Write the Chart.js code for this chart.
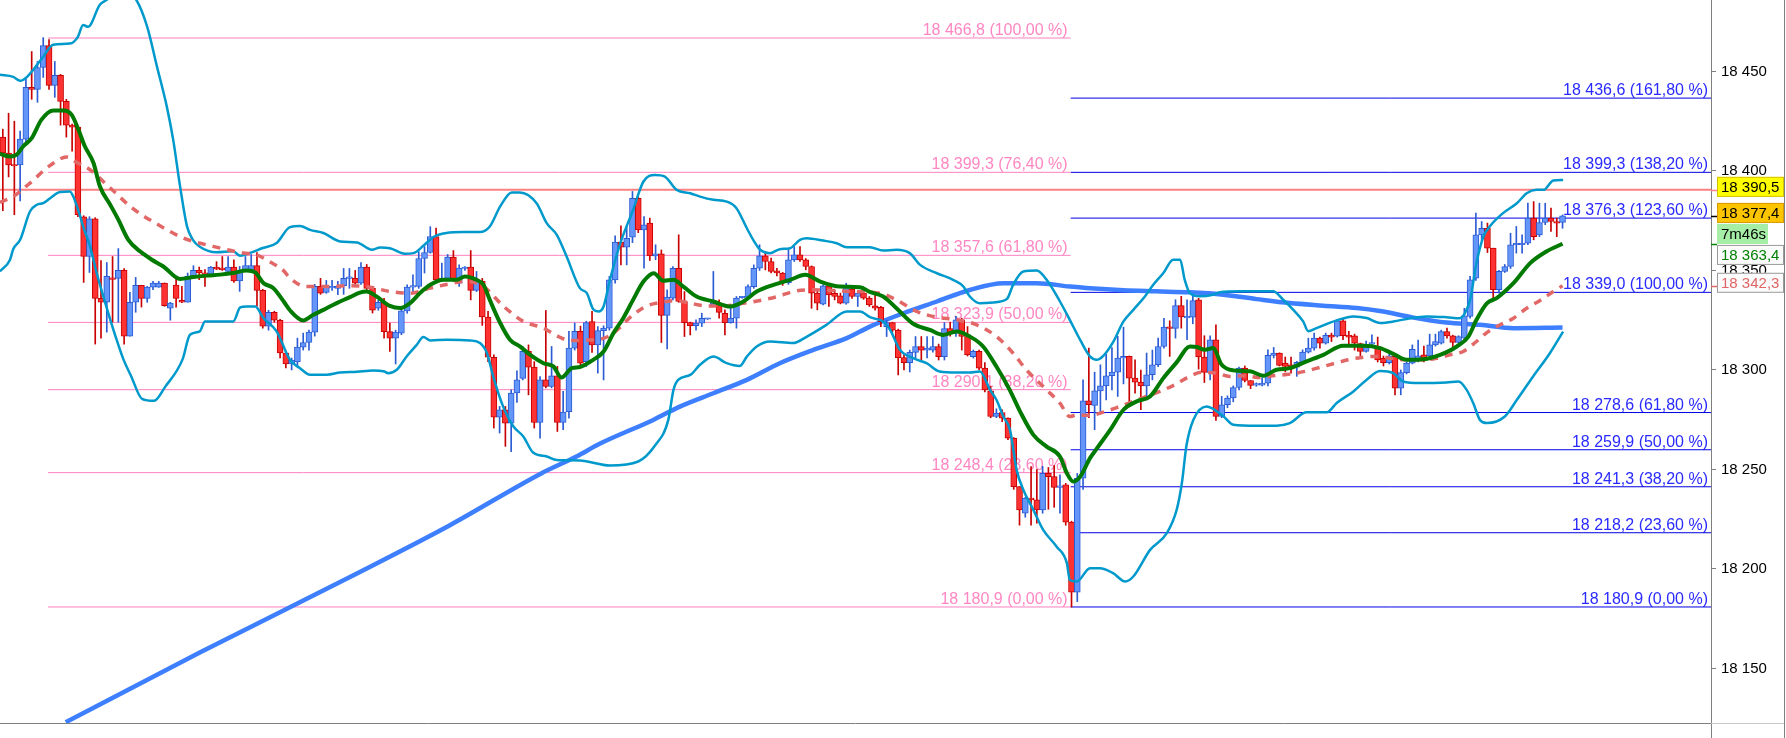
<!DOCTYPE html>
<html>
<head>
<meta charset="utf-8">
<script src="https://cdn.jsdelivr.net/npm/chart.js@4/dist/chart.umd.min.js"></script>
<style>
  html, body { margin: 0; padding: 0; background: #fff; }
  canvas { display: block; }
</style>
</head>
<body>
<canvas id="chart" width="1786" height="738"></canvas>
<script>
// candle data, one entry per bar (index 0 = leftmost bar)
const opens = [
  18417, 18409, 18403, 18403, 18416, 18442, 18441, 18452, 18463, 18443,
  18448, 18435, 18423, 18422, 18377, 18357, 18376, 18336, 18334, 18346,
  18346, 18350, 18317, 18334, 18342.5, 18336, 18341.6, 18341.6, 18343.7, 18331.1,
  18342.7, 18335, 18334, 18347, 18350, 18348.7, 18348, 18351.7, 18351, 18349.5,
  18351.7, 18344.7, 18350, 18350.5, 18352.5, 18340, 18322, 18329, 18325, 18308.5,
  18303, 18304, 18311.5, 18313.8, 18319, 18342, 18339, 18341.2, 18341, 18342.3,
  18346, 18346, 18343.6, 18351.7, 18341, 18331, 18334, 18319.3, 18316, 18318.5,
  18329.7, 18341.6, 18342, 18356, 18359, 18367, 18345.3, 18346, 18356.7, 18343.6,
  18351, 18351.7, 18340, 18344.5, 18326.6, 18306.4, 18276.3, 18280, 18273.3, 18288.4,
  18295.8, 18309.3, 18301.4, 18273.6, 18295, 18291.7, 18297, 18273.6, 18279, 18311,
  18319.4, 18304.2, 18324.3, 18312.6, 18319.8, 18321, 18345.3, 18364.2, 18361.7, 18366.7,
  18386.3, 18370.4, 18373.8, 18357.3, 18358.3, 18327.4, 18336.1, 18351.1, 18334.4, 18323.8,
  18322.2, 18323.5, 18325.5, 18332.7, 18333.5, 18328.5, 18323.8, 18326, 18336.3, 18336.6,
  18341.9, 18351.1, 18357.3, 18354.5, 18349.8, 18348.7, 18343.9, 18355.3, 18357.8, 18355.3,
  18352, 18338.6, 18333, 18342.3, 18338.5, 18337.2, 18333.6, 18340.6, 18336.9, 18338.6,
  18336.1, 18332.2, 18331.5, 18321.8, 18323.8, 18320, 18306.2, 18303.7, 18308.8, 18311.8,
  18310, 18310, 18311.8, 18306.7, 18320.8, 18318.5, 18325.2, 18316.8, 18306.7, 18309.3,
  18300.9, 18289.5, 18276.6, 18278.6, 18275.8, 18265.7, 18241.4, 18228, 18235.6, 18234.8,
  18229.7, 18248.1, 18246.4, 18241, 18242.3, 18223.5, 18188.3, 18245.6, 18284.5, 18282.2,
  18289.5, 18292, 18297.1, 18298.9, 18306, 18306.8, 18295.9, 18293.9, 18292, 18297.6,
  18302.6, 18311.8, 18321.5, 18320.9, 18332.3, 18326.2, 18326.5, 18335.3, 18306.5, 18298.8,
  18315.2, 18276.7, 18282.5, 18285.9, 18291.2, 18300.9, 18294.7, 18292.4, 18292.4, 18293.4,
  18307.3, 18308.5, 18303.4, 18302.6, 18301.4, 18303.8, 18309, 18311, 18316, 18313.5,
  18317.5, 18317, 18324.7, 18317.5, 18317.2, 18313.2, 18309.3, 18313, 18311.8, 18305.9,
  18303.7, 18306.8, 18290.8, 18298.7, 18303.4, 18305.1, 18307.6, 18307.1, 18312.6, 18313.5,
  18319.3, 18317.1, 18313.8, 18316, 18326.9, 18346.1, 18367.9, 18371.2, 18361.2, 18340.3,
  18349.5, 18352, 18362.9, 18362.9, 18363.7, 18376.3, 18367.9, 18374.1, 18376.3, 18374.6,
  18374.1
];
const highs = [
  18421, 18429, 18425, 18420, 18446, 18460, 18455, 18467, 18466, 18455,
  18448.5, 18436, 18423.5, 18422.5, 18377.5, 18377, 18376.5, 18355, 18354, 18357,
  18361, 18351, 18339, 18346.5, 18342.5, 18342, 18344.5, 18344.5, 18343.7, 18334,
  18347, 18342, 18348.7, 18352.4, 18351.7, 18350.4, 18352, 18354.4, 18357, 18357,
  18355.4, 18352, 18357, 18358, 18359, 18340.5, 18330, 18329.5, 18325.5, 18309,
  18306, 18316, 18318.5, 18320, 18343, 18346, 18345, 18345, 18344.5, 18351,
  18351, 18350, 18354, 18353, 18341.5, 18335, 18336, 18323.5, 18320, 18330.5,
  18342.8, 18347.8, 18359.5, 18362, 18372, 18371.3, 18353.7, 18358, 18360, 18352.8,
  18352, 18360, 18349.5, 18346, 18329.4, 18307.6, 18281.7, 18281.7, 18290, 18299.6,
  18311.8, 18312.6, 18304.2, 18296.7, 18329.9, 18311.8, 18301.8, 18289.2, 18319.4, 18323.6,
  18322, 18324.5, 18329.4, 18321.8, 18322.2, 18347, 18367.4, 18372.4, 18372, 18389.7,
  18387, 18377.1, 18376.3, 18362.9, 18360.3, 18340.3, 18352, 18367.9, 18339.4, 18324,
  18325.2, 18328.5, 18326, 18349.5, 18335.2, 18330.2, 18331.9, 18336.9, 18337, 18342.8,
  18352.8, 18362.9, 18359.5, 18356.2, 18351.1, 18349, 18360.3, 18362, 18362, 18356,
  18352.3, 18340.3, 18342.8, 18342.8, 18340.3, 18338.6, 18343.6, 18341.9, 18339.4, 18339.4,
  18336.9, 18337.7, 18332, 18325, 18324, 18320.5, 18308, 18310, 18316.8, 18316.8,
  18316.8, 18316.8, 18313, 18323.8, 18324, 18327, 18326, 18321.8, 18310, 18310,
  18303.7, 18291.7, 18280.5, 18280, 18276, 18266, 18241.4, 18236, 18251.5, 18250,
  18251.6, 18251, 18252, 18247.3, 18243, 18224, 18248, 18295, 18311, 18298.9,
  18302.6, 18308, 18311.3, 18316.9, 18321.5, 18307, 18305.1, 18300, 18308.5, 18310,
  18316, 18326, 18324.7, 18335.3, 18337, 18335.3, 18337, 18336, 18317.2, 18317.2,
  18322.7, 18286.7, 18287, 18292, 18301.5, 18302, 18294.7, 18293.5, 18296, 18310.1,
  18311.3, 18308.6, 18306.5, 18306.5, 18304.3, 18310.1, 18316, 18318.5, 18316.5, 18318.5,
  18318.5, 18325.2, 18326, 18319.4, 18318, 18313.5, 18314.5, 18317.7, 18316.5, 18307,
  18308, 18307.6, 18300, 18304, 18312.6, 18315, 18312, 18318, 18318, 18320,
  18321, 18317.5, 18317.2, 18331, 18347, 18378.8, 18374.6, 18373.8, 18361.2, 18350,
  18353, 18368.7, 18372.1, 18367.9, 18383.8, 18384.6, 18383.8, 18383.8, 18381.3, 18376.3,
  18377.9
];
const lows = [
  18380, 18397, 18378, 18385, 18414, 18436, 18434.5, 18447, 18441, 18437,
  18423, 18417, 18410, 18377, 18344, 18349, 18313, 18316, 18319, 18324,
  18324, 18313, 18317, 18329, 18331.6, 18334, 18340.3, 18341.5, 18332, 18325,
  18331.6, 18333.8, 18334, 18347, 18345.4, 18342, 18347, 18350.4, 18350, 18348.7,
  18344, 18339.5, 18350, 18350, 18332, 18321, 18320, 18324, 18306, 18301,
  18300, 18302, 18310, 18310, 18317, 18338, 18338.5, 18340, 18337.8, 18338,
  18341, 18343, 18343, 18340, 18328.6, 18330, 18316, 18309.3, 18303, 18317.7,
  18328.5, 18339.4, 18341, 18348.7, 18358.7, 18345, 18344.5, 18345, 18344.5, 18342,
  18350, 18335.2, 18339.4, 18322.4, 18304.2, 18270.8, 18268.3, 18261.6, 18259, 18283.7,
  18295, 18287.5, 18270.8, 18265.7, 18291, 18291, 18269.1, 18270, 18275.8, 18310,
  18302, 18301.7, 18308.8, 18298.4, 18295, 18320, 18343.6, 18352.8, 18352.8, 18364,
  18369, 18351.1, 18355, 18355.4, 18313.8, 18310.6, 18335.2, 18334, 18316.8, 18317.6,
  18320, 18321.8, 18325.4, 18331.9, 18326, 18317.6, 18323.5, 18321, 18336, 18336,
  18341, 18350, 18350.3, 18348.7, 18347.3, 18342.5, 18343, 18354.5, 18354.5, 18350.3,
  18331, 18330.2, 18332.7, 18331.9, 18335.2, 18333.2, 18333, 18336, 18331.9, 18335.5,
  18331.9, 18330, 18321.8, 18316.8, 18319, 18297.5, 18300, 18299, 18306, 18305,
  18306, 18309, 18305, 18305, 18317, 18316.8, 18310, 18307, 18306, 18300,
  18289, 18276, 18276, 18274, 18265, 18240, 18222, 18226, 18222, 18223,
  18228, 18230, 18231, 18228, 18222, 18180.9, 18183.6, 18240, 18276, 18270,
  18278, 18285, 18290, 18286.7, 18293, 18282.5, 18288.3, 18280, 18285, 18295,
  18301.7, 18311, 18306.8, 18316, 18321, 18315.2, 18323.2, 18300.4, 18293.7, 18295,
  18274.6, 18276, 18281, 18284, 18290, 18294, 18290.6, 18291.8, 18292, 18292,
  18306, 18302, 18299, 18298.4, 18296.8, 18303, 18308.5, 18310, 18311, 18313,
  18314.3, 18316.5, 18315.2, 18311.8, 18310, 18307.2, 18309, 18312.7, 18304, 18302,
  18303, 18287.5, 18287.5, 18298, 18303, 18304, 18304, 18306, 18312, 18313,
  18316, 18311, 18313.5, 18315, 18326, 18345, 18365, 18359, 18336.1, 18338.6,
  18349, 18351, 18358.7, 18358.7, 18363, 18365.4, 18367, 18373, 18369.6, 18367,
  18371.2
];
const closes = [
  18409, 18403, 18402.5, 18416, 18442, 18441, 18452, 18463, 18443, 18448,
  18435, 18423, 18422, 18378, 18357, 18376, 18336, 18334, 18347, 18345.5,
  18350, 18317, 18334, 18342.5, 18336, 18341.6, 18343.7, 18343.7, 18332.3, 18333.6,
  18336, 18334, 18347, 18350, 18348.7, 18348, 18351.7, 18350.7, 18350.4, 18351.7,
  18344.7, 18350, 18352.5, 18352.5, 18340, 18322, 18329, 18325, 18308.5, 18303,
  18305, 18311.5, 18313.8, 18319, 18342, 18338.6, 18341.6, 18342, 18342, 18346,
  18346.6, 18343.6, 18351.7, 18341, 18330, 18334, 18319.3, 18316, 18319, 18329.7,
  18341.6, 18342.3, 18356, 18359, 18367, 18345.3, 18346, 18356.7, 18345.3, 18351.2,
  18351.7, 18340, 18344.5, 18326.6, 18306.4, 18276.3, 18280, 18273.3, 18288.4, 18295,
  18309.3, 18301.4, 18273.6, 18295, 18291.7, 18297, 18273.6, 18278.8, 18311, 18319.4,
  18303.4, 18323.8, 18312.6, 18319.8, 18321, 18345.3, 18364.2, 18361.7, 18366.2, 18386.3,
  18370.4, 18372.9, 18357.3, 18358.3, 18327.4, 18336.6, 18351.1, 18334.4, 18323.8, 18322.2,
  18323.5, 18326, 18325.9, 18333.5, 18328.9, 18323.8, 18326, 18336.1, 18336.7, 18341.9,
  18351.1, 18357.3, 18354.5, 18349.5, 18348.7, 18343.9, 18355.3, 18357.8, 18355.3, 18352,
  18338.6, 18333.6, 18342.3, 18337.7, 18336.9, 18333.6, 18341.9, 18336.9, 18338.6, 18336.1,
  18332.7, 18331, 18324.3, 18323.8, 18320, 18306.2, 18303.7, 18308.8, 18311.8, 18310,
  18311, 18311.8, 18306.7, 18320.8, 18318.5, 18325.2, 18316.8, 18307.6, 18309.3, 18300.9,
  18290, 18276.6, 18278.3, 18275.8, 18265.7, 18241.4, 18229.7, 18235.6, 18234.8, 18229.7,
  18248.1, 18246.4, 18241, 18241.5, 18223.5, 18188.3, 18245.6, 18284.5, 18282.5, 18289.5,
  18292, 18297.1, 18298.9, 18306, 18306.8, 18295.9, 18293.9, 18292, 18297.6, 18302.6,
  18311.8, 18321.5, 18320.9, 18332.3, 18326.6, 18326.8, 18334.8, 18306.5, 18298.8, 18315.2,
  18276.7, 18282.5, 18285.9, 18291.2, 18300.9, 18294.7, 18292.2, 18293, 18293.4, 18307.3,
  18308.5, 18302.3, 18301.8, 18301.4, 18303.8, 18309, 18311, 18316, 18313.5, 18317.4,
  18316.5, 18324.7, 18317.2, 18316.5, 18313.5, 18309.3, 18312.7, 18313.5, 18305.1, 18303.7,
  18307.1, 18290.8, 18298.7, 18303.4, 18310.4, 18307.1, 18305.1, 18312.6, 18314.3, 18319.3,
  18317.1, 18313.8, 18316.8, 18327.2, 18345.3, 18367.9, 18371.2, 18361.2, 18340.3, 18349.5,
  18352, 18362.9, 18363.2, 18363.3, 18376.3, 18367, 18374.1, 18376.3, 18374.6, 18373.8,
  18377.4
];

// indicator lines as [bar index, price]
const greenMA = [
  [-0.5, 18408.5], [1.25, 18407.3], [2.4, 18408.2], [3.55, 18412.4], [5, 18416.5], [6.7, 18425.8],
  [8.75, 18430.4], [10.5, 18430.4], [11.9, 18428.3], [13.1, 18420.7], [14.2, 18412.4], [15.7, 18404],
  [16.8, 18392.3], [18.6, 18383], [20, 18375.5], [21.7, 18365.5], [23.75, 18359.6], [25.8, 18355.4],
  [27.8, 18352], [30.7, 18345.7], [33, 18346.7], [35.3, 18347.4], [37.6, 18347.9], [39.9, 18348.7],
  [42.2, 18350], [43.7, 18349], [45.1, 18343.7], [46.8, 18341.2], [48.6, 18334.5], [49.7, 18330],
  [52, 18324.9], [53.75, 18327.7], [55.5, 18330.2], [57.8, 18333.6], [60.1, 18336.6], [61.8, 18338.9],
  [63, 18339.4], [64.7, 18336.9], [67, 18332.2], [68.8, 18331.1], [70.5, 18333.6], [72.2, 18338.6],
  [74, 18342.8], [76.3, 18345.3], [78.6, 18345.3], [80, 18347], [82, 18345.3], [83.2, 18342.8],
  [84.3, 18335.2], [86.1, 18323.6], [87.8, 18315.2], [89.5, 18311.8], [91.3, 18307.6], [93.6, 18303.4],
  [95.3, 18301.8], [96.7, 18296.2], [98.5, 18300.9], [99.9, 18301.5], [102.2, 18305.1], [104, 18309.3],
  [105.7, 18318.5], [107.4, 18326], [109.1, 18335.2], [110.9, 18344.4], [112.7, 18348.6], [114.3, 18344.8],
  [116.1, 18345.3], [117.8, 18341.9], [120.1, 18336.9], [123, 18334.4], [125.9, 18331.9], [128.2, 18334.4],
  [130.5, 18339.4], [133.4, 18342.8], [136.3, 18345.3], [138.9, 18347.8], [141.5, 18344.4], [144.9, 18341.9],
  [148.4, 18341.6], [150.1, 18339.2], [152.4, 18336.9], [154.7, 18331], [157.6, 18323.2], [160.5, 18320.1],
  [162.8, 18317.6], [165.1, 18319.3], [167.4, 18316.8], [169.7, 18311.8], [172, 18301.7], [174.3, 18290],
  [176.1, 18279.1], [178.4, 18267.4], [180.7, 18261.5], [183, 18256.5], [184.2, 18248.1], [185.3, 18243.9],
  [186.5, 18246.4], [188.2, 18255.7], [189.3, 18260.2], [191.7, 18269.9], [194, 18280], [196.3, 18284.2],
  [198.6, 18286.7], [200.9, 18295.9], [203.2, 18303.8], [205.5, 18311.8], [206.7, 18311.5], [208.1, 18310.1],
  [209.5, 18311], [211, 18302.6], [213, 18299.8], [215.9, 18299.3], [218.2, 18297.1], [220.5, 18300.1],
  [222.8, 18300.9], [225.7, 18304.3], [228.6, 18307.6], [232, 18312.2], [235.5, 18312.2], [238.4, 18311],
  [240.7, 18308.1], [243, 18305.1], [245.9, 18305.4], [248.8, 18307.6], [251.7, 18311.8], [253.7, 18316.8],
  [255.1, 18325.2], [256.9, 18333.5], [258.6, 18336.1], [261.5, 18343.6], [264.4, 18353.7], [267.2, 18359.5],
  [270, 18363.4]
];
const redMA = [
  [-0.5, 18384.2], [1.8, 18387.2], [4.7, 18393.9], [8.2, 18402.8], [11.05, 18407], [12.8, 18404.3],
  [15.1, 18400.6], [18.6, 18391.4], [22.6, 18380.9], [26.6, 18373.5], [31.25, 18366.3], [36.4, 18362.1],
  [41.6, 18358.8], [43.9, 18357.9], [46.3, 18354.2], [48.6, 18349.9], [49.7, 18346.1], [52.6, 18341.9],
  [55.5, 18341.9], [60.1, 18342.3], [63.6, 18341.6], [67, 18339.4], [70.5, 18338.6], [74, 18341.1],
  [77.4, 18343.3], [80.3, 18344.5], [83.2, 18341.9], [86.6, 18332.2], [90.1, 18324.4], [93.6, 18321],
  [95.9, 18317.2], [98.2, 18314.8], [103.4, 18315.5], [105.7, 18318.5], [109.1, 18327.7], [111.5, 18332.2],
  [113.8, 18333.9], [116.6, 18334.9], [118.9, 18333.6], [121.8, 18332.2], [124.7, 18332.2], [127.6, 18333.2],
  [131.6, 18335.2], [134.5, 18337.2], [136.8, 18339.4], [140.3, 18340.3], [143.8, 18339.9], [147.2, 18339.4],
  [151.8, 18338.6], [154.7, 18335.2], [158.2, 18329.4], [161.7, 18326.5], [165.1, 18325.2], [168.6, 18322.7],
  [172, 18316.8], [174.9, 18308.4], [177.2, 18300], [180.7, 18290], [183, 18283.3], [184.7, 18276.6],
  [185.9, 18277.4], [188.2, 18277.2], [190.5, 18278.8], [193.4, 18281.7], [195.7, 18284.2], [198, 18286.7],
  [200.3, 18289.2], [202.9, 18292.6], [205.2, 18296.4], [207.5, 18298.8], [210.1, 18298.4], [212.4, 18296.7],
  [215, 18297.1], [217.6, 18296.2], [220.2, 18297.2], [222.8, 18297.9], [225.4, 18299.3], [228, 18301.3],
  [230.3, 18303.1], [232.9, 18305.1], [235.2, 18306.3], [237.8, 18306.8], [240.1, 18305.9], [243, 18305.1],
  [245.9, 18305.1], [248.2, 18305.9], [250.5, 18307.6], [252.8, 18309.3], [255.1, 18314.3], [256.9, 18318.8],
  [259.2, 18322.7], [261.5, 18326], [263.8, 18331], [266.1, 18334.9], [268.4, 18339.4], [270, 18342.3]
];
const bandUpper = [
  [-0.5, 18448.3], [1.8, 18447.3], [3, 18445.3], [4.2, 18447.3], [7, 18457.4], [8.7, 18463.4],
  [11.6, 18464], [13, 18467.4], [13.9, 18473.4], [14.75, 18472.4], [16.8, 18483.5], [18, 18486],
  [20.3, 18492], [23.1, 18486], [25, 18472.4], [26.7, 18452.3], [28.4, 18432.2], [29.5, 18415.6],
  [30.7, 18392], [31.9, 18372], [32.9, 18365.4], [34.1, 18361.9], [37, 18359.1], [39.85, 18359.6],
  [41.1, 18357.4], [42.8, 18358.8], [45, 18361.3], [47.4, 18363.8], [49.7, 18371.8], [51.45, 18372.4],
  [53.2, 18370.4], [55.5, 18368.8], [58.4, 18364.6], [61.3, 18364.1], [63.9, 18360.4], [65.3, 18361.5],
  [67, 18361.2], [69.6, 18358.4], [71.1, 18358.7], [72.8, 18362.4], [74.5, 18366.7], [76.8, 18368.8],
  [79.7, 18369.3], [82.6, 18369.3], [84.3, 18372.1], [86.1, 18382.2], [88.1, 18389.2], [89.5, 18389.2],
  [92.4, 18383.8], [94.15, 18373.8], [95.9, 18367.9], [97.6, 18357], [99.9, 18341.1], [101.1, 18338.6],
  [102.2, 18330.5], [103.1, 18329.4], [104, 18331.9], [105.1, 18345.3], [106.8, 18362.9], [109.1, 18380.4],
  [110.9, 18394.7], [112.9, 18398], [114.6, 18397.2], [116.65, 18390.5], [119, 18388.8], [120.7, 18387.1],
  [123, 18385.5], [125.3, 18384.6], [127, 18381.3], [128.8, 18371.2], [129.9, 18365.4], [131.1, 18360.4],
  [132.8, 18358.7], [134.5, 18360.7], [136.3, 18361.2], [138, 18365.4], [139.2, 18366.2], [142, 18365],
  [144.35, 18363.7], [146.1, 18361.7], [150.1, 18361.7], [152.4, 18360], [154.7, 18360.4], [157, 18358.7],
  [158.8, 18352.8], [161.7, 18348.6], [164.5, 18345.3], [166.3, 18341.9], [167.4, 18336.9], [169.15, 18333.5],
  [171.5, 18333.9], [173.8, 18335.6], [174.9, 18342.8], [176.65, 18349.5], [179, 18350], [180.7, 18345.3],
  [183, 18334.4], [184.7, 18325.2], [186.5, 18315.1], [188.2, 18306.8], [189.35, 18305.1], [190.5, 18307.1],
  [192.2, 18314], [194, 18324.4], [195.7, 18330.2], [197.7, 18336.9], [199.15, 18342.8], [200.9, 18348.7],
  [202.6, 18355.4], [203.8, 18355.4], [204.6, 18345.3], [205.5, 18338.6], [207.2, 18337], [209.5, 18337.8],
  [210.7, 18339.1], [214.2, 18339.5], [219.9, 18339.5], [221.65, 18335.3], [223.4, 18330.2], [225.1, 18324.4],
  [226, 18319.4], [227.4, 18321], [230.9, 18324.9], [233.8, 18326.9], [236.1, 18326.1], [238.4, 18323.6],
  [240.7, 18324.3], [243.6, 18326], [246.5, 18326.9], [249.9, 18326.5], [252.2, 18326], [253.1, 18328.5],
  [254, 18335.2], [255.1, 18353.7], [256.3, 18367], [257.4, 18372.1], [259.7, 18378.8], [262.1, 18383.8],
  [263.8, 18388.8], [265.5, 18390.5], [266.7, 18390.5], [268.4, 18395.2], [270.1, 18395.5]
];
const bandLower = [
  [-0.5, 18349.5], [1.25, 18355.4], [1.8, 18360.7], [3, 18365.4], [4.7, 18379.6], [5.9, 18383],
  [7, 18383.8], [8.2, 18386.3], [9.9, 18389.4], [11.6, 18389.7], [12.2, 18387.2], [13.4, 18377.2],
  [13.9, 18372.1], [15.1, 18362.1], [16.25, 18348.7], [17.4, 18337], [18.6, 18325.3], [19.7, 18315.2],
  [20.9, 18305.2], [22.2, 18297], [24.1, 18285.5], [26.2, 18284.5], [28.1, 18291.5], [31.1, 18305.2],
  [32.4, 18317.7], [34.1, 18319.4], [35, 18324.4], [39.9, 18324.4], [41.1, 18331.4], [42.2, 18331.9],
  [43.7, 18331.9], [45.1, 18326.1], [47.4, 18319.4], [49.7, 18305.1], [51.45, 18300.9], [53.2, 18297.6],
  [56.1, 18297.6], [58.4, 18298.7], [61.3, 18299.1], [64.1, 18299.7], [65.9, 18299.4], [66.7, 18298.4],
  [68.2, 18300.1], [69.9, 18306.8], [71.65, 18312.6], [72.8, 18316.5], [74, 18314.8], [76.8, 18315.2],
  [80.9, 18314.8], [82.6, 18313.5], [83.8, 18308.5], [84.9, 18296.7], [86.6, 18281.7], [88.4, 18271.6],
  [90.1, 18266.6], [91.8, 18258.5], [94.15, 18256.5], [95.9, 18254.8], [99.9, 18254.5], [105.1, 18252],
  [110, 18254], [112.9, 18262], [115.2, 18274.9], [116.1, 18290], [116.9, 18295], [119, 18297.5],
  [120.7, 18302.6], [123, 18306.7], [125.3, 18303.4], [127.6, 18302], [128.8, 18306.7], [130.5, 18311.8],
  [132.8, 18314.3], [136.8, 18313.5], [139.2, 18316.8], [142.6, 18322.7], [146.1, 18329.4], [148.4, 18329.4],
  [150.1, 18326.5], [152.4, 18324.3], [153.6, 18320.2], [155.3, 18310.1], [157.6, 18305.9], [159.9, 18303.4],
  [162.2, 18299.2], [165.1, 18298.7], [167.4, 18298.7], [169.15, 18299.2], [170.9, 18290], [172, 18285],
  [173.2, 18276.6], [174.35, 18269.9], [175.5, 18249.8], [176.65, 18239.8], [178.4, 18229.7], [180.1, 18219.6],
  [182.4, 18211.3], [184.2, 18202.9], [184.7, 18194.5], [185.9, 18193.7], [188.2, 18200.4], [189.9, 18200.4],
  [192.2, 18197.9], [194.3, 18193.7], [195.7, 18196.2], [198.6, 18209.6], [201.5, 18218], [203.2, 18229.7],
  [204.1, 18243.1], [204.9, 18262], [206.1, 18275], [208.4, 18281.7], [209.3, 18280.8], [211.3, 18276.7],
  [213, 18272.5], [217.05, 18272], [220.5, 18272], [222.8, 18273.3], [225.7, 18278.7], [229.2, 18278.7],
  [230.9, 18283.4], [233.8, 18289.2], [236.1, 18295.1], [238.4, 18299.5], [240.7, 18298.4], [242.4, 18294.2],
  [245.3, 18293.4], [249.9, 18293.7], [252, 18294.2], [253.4, 18290], [254.55, 18283.3], [255.7, 18274.9],
  [256.9, 18273.3], [260, 18276.6], [262.1, 18285], [264.9, 18296.7], [267.8, 18308.4], [270.1, 18319.3]
];
const blueMA = [
  [10.9, 18123], [34.1, 18158], [60.1, 18196], [77.4, 18222], [93.2, 18248], [99.3, 18256.5],
  [103.4, 18263], [112.6, 18274.9], [117.2, 18281.6], [123, 18288.3], [128.8, 18295], [134.5, 18303.4],
  [140.3, 18310.1], [146.1, 18316], [150.1, 18321.8], [155.9, 18328.5], [161.7, 18334.4], [167.4, 18340.2],
  [173.2, 18343.6], [179, 18343.6], [184.7, 18341.9], [188.2, 18341], [194, 18340], [199.7, 18339.5],
  [205.5, 18339], [211.3, 18337.8], [217.05, 18335.6], [222.8, 18333.6], [228.6, 18332.3], [234.4, 18331.1],
  [238.4, 18329.6], [244.2, 18326.3], [249.9, 18323.8], [255.7, 18322.7], [261.5, 18321], [270, 18321.3]
];

// fibonacci retracements
const pinkLevels = [18466.8, 18399.3, 18357.6, 18323.9, 18290.1, 18248.4, 18180.9];
const pinkPercents = [100, 76.4, 61.8, 50, 38.2, 23.6, 0];
const blueLevels = [18436.6, 18399.3, 18376.3, 18339.0, 18278.6, 18259.9, 18241.3, 18218.2, 18180.9];
const bluePercents = [161.8, 138.2, 123.6, 100, 61.8, 50, 38.2, 23.6, 0];
const pinkFrom = 7.8, pinkTo = 184.85, blueFrom = 184.85;

// right-axis price tags
const lastHigh = 18390.5;
const lastPrice = 18377.4;
const timerText = '7m46s';
const greenLast = 18363.4;
const redLast = 18342.3;

// axis ranges
const xMin = -0.485, xMax = 295.7;
const yMin = 18122.6, yMax = 18485.9;

const FONT = '"Liberation Sans", Arial, sans-serif';

function fmtInt(v) {
  return String(Math.round(v)).replace(/\B(?=(\d{3})+(?!\d))/g, ' ');
}
function fmtPrice(v) {
  const parts = v.toFixed(1).split('.');
  return fmtInt(Number(parts[0])) + ',' + parts[1];
}
function fmtPct(p) {
  return '(' + p.toFixed(2).replace('.', ',') + ' %)';
}
const toPts = arr => arr.map(p => ({ x: p[0], y: p[1] }));

const isBull = opens.map((o, i) => closes[i] >= o);

const fibLabels = {
  id: 'fibLabels',
  beforeDatasetsDraw(chart) {
    const { ctx, scales: { x, y } } = chart;
    ctx.save();
    ctx.font = '16px ' + FONT;
    ctx.textAlign = 'right';
    ctx.textBaseline = 'alphabetic';
    ctx.fillStyle = '#ff86c2';
    const px = x.getPixelForValue(pinkTo) - 3;
    pinkLevels.forEach((v, i) => {
      ctx.fillText(fmtPrice(v) + ' ' + fmtPct(pinkPercents[i]), px, y.getPixelForValue(v) - 3);
    });
    ctx.fillStyle = '#2a2aff';
    const bx = chart.chartArea.right - 3;
    blueLevels.forEach((v, i) => {
      ctx.fillText(fmtPrice(v) + ' ' + fmtPct(bluePercents[i]), bx, y.getPixelForValue(v) - 3);
    });
    ctx.restore();
  }
};

const priceTags = {
  id: 'priceTags',
  afterDraw(chart) {
    const { ctx, chartArea, scales: { y } } = chart;
    const left = chartArea.right + 6;
    const full = chart.width - 2 - left;
    ctx.save();
    // frame lines
    ctx.strokeStyle = '#7f7f7f';
    ctx.lineWidth = 1;
    ctx.beginPath();
    ctx.moveTo(0, chartArea.bottom + 0.5);
    ctx.lineTo(chartArea.right, chartArea.bottom + 0.5);
    ctx.moveTo(chart.width - 1.5, 0);
    ctx.lineTo(chart.width - 1.5, chart.height);
    ctx.moveTo(chartArea.right + 0.5, chartArea.bottom);
    ctx.lineTo(chartArea.right + 0.5, chart.height);
    ctx.stroke();
    ctx.strokeStyle = '#c8c8c8';
    ctx.beginPath();
    ctx.moveTo(chartArea.right, chartArea.bottom + 0.5);
    ctx.lineTo(chart.width - 2, chartArea.bottom + 0.5);
    ctx.stroke();

    const tags = [
      { v: lastHigh, text: fmtPrice(lastHigh), bg: '#ffff00', border: '#d6c000', color: '#000', tick: '#ff8080', w: full },
      { v: lastPrice, text: fmtPrice(lastPrice), bg: '#fdc400', border: '#d89a00', color: '#000', tick: '#000', w: full },
      { v: null, text: timerText, bg: '#a6eea6', border: '#a6eea6', color: '#000', tick: null, w: 51 },
      { v: greenLast, text: fmtPrice(greenLast), bg: '#fbfbfb', border: '#9a9a9a', color: '#008000', tick: '#008000', w: full },
      { v: redLast, text: fmtPrice(redLast), bg: '#fbfbfb', border: '#9a9a9a', color: '#e06666', tick: '#e06666', w: full }
    ];
    const h = 20;
    let prevBottom = -100;
    ctx.font = '15px ' + FONT;
    ctx.textAlign = 'left';
    ctx.textBaseline = 'middle';
    tags.forEach(t => {
      let top = t.v === null ? prevBottom + 1 : Math.max(y.getPixelForValue(t.v) - 13, prevBottom + 1);
      if (t.tick) {
        const ty = Math.round(y.getPixelForValue(t.v)) + 0.5;
        ctx.strokeStyle = t.tick;
        ctx.lineWidth = 1.5;
        ctx.beginPath();
        ctx.moveTo(chartArea.right, ty);
        ctx.lineTo(chartArea.right + 6, ty);
        ctx.stroke();
      }
      ctx.fillStyle = t.bg;
      ctx.fillRect(left, top, t.w, h);
      ctx.strokeStyle = t.border;
      ctx.lineWidth = 1;
      ctx.strokeRect(left + 0.5, top + 0.5, t.w - 1, h - 1);
      ctx.fillStyle = t.color;
      ctx.fillText(t.text, left + 4, top + h / 2 + 1);
      prevBottom = top + h;
    });
    ctx.restore();
  }
};

const datasets = [];

// moving averages and bands (lower order = drawn on top)
datasets.push({
  type: 'line', data: toPts(greenMA), borderColor: '#007a00', borderWidth: 4,
  pointRadius: 0, cubicInterpolationMode: 'monotone', order: 1
});
datasets.push({
  type: 'line', data: toPts(redMA), borderColor: '#e26868', borderWidth: 3.5,
  borderDash: [8, 7], pointRadius: 0, cubicInterpolationMode: 'monotone', order: 2
});
datasets.push({
  type: 'line', data: toPts(bandUpper), borderColor: '#0099cc', borderWidth: 2.5,
  pointRadius: 0, cubicInterpolationMode: 'monotone', order: 3
});
datasets.push({
  type: 'line', data: toPts(bandLower), borderColor: '#0099cc', borderWidth: 2.5,
  pointRadius: 0, cubicInterpolationMode: 'monotone', order: 3
});

// candles: bodies and wicks as floating bars
datasets.push({
  type: 'bar', grouped: false, barThickness: 6, minBarLength: 1.5,
  data: opens.map((o, i) => ({ x: i, y: [o, closes[i]] })),
  backgroundColor: isBull.map(b => b ? '#6496fa' : '#ff3232'),
  borderColor: isBull.map(b => b ? '#2c5cd4' : '#c80000'),
  borderWidth: 1, borderSkipped: false, order: 4
});
datasets.push({
  type: 'bar', grouped: false, barThickness: 1,
  data: lows.map((l, i) => ({ x: i, y: [l, highs[i]] })),
  backgroundColor: isBull.map(b => b ? '#2c5cd4' : '#c80000'),
  borderWidth: 0, order: 5
});

datasets.push({
  type: 'line', data: toPts(blueMA), borderColor: '#3d7fff', borderWidth: 4.5,
  pointRadius: 0, cubicInterpolationMode: 'monotone', order: 6
});

// fibonacci lines
pinkLevels.forEach(v => datasets.push({
  type: 'line', data: [{ x: pinkFrom, y: v }, { x: pinkTo, y: v }],
  borderColor: '#ff80c0', borderWidth: 1, pointRadius: 0, order: 7
}));
blueLevels.forEach(v => datasets.push({
  type: 'line', data: [{ x: blueFrom, y: v }, { x: xMax, y: v }],
  borderColor: '#0000e6', borderWidth: 1, pointRadius: 0, order: 7
}));
// last high line across the whole chart
datasets.push({
  type: 'line', data: [{ x: xMin, y: lastHigh }, { x: xMax, y: lastHigh }],
  borderColor: '#ff8080', borderWidth: 2, pointRadius: 0, order: 8
});

const ctx = document.getElementById('chart').getContext('2d');
new Chart(ctx, {
  type: 'line',
  data: { datasets: datasets },
  options: {
    responsive: false,
    animation: false,
    events: [],
    layout: { padding: { top: 0, left: 0, right: 0, bottom: 15 } },
    plugins: { legend: { display: false }, tooltip: { enabled: false } },
    scales: {
      x: { type: 'linear', min: xMin, max: xMax, display: false, offset: false },
      y: {
        type: 'linear',
        position: 'right',
        min: yMin,
        max: yMax,
        afterFit(scale) {
          scale.width = 75;
          scale.paddingTop = 0;
          scale.paddingBottom = 0;
        },
        ticks: {
          stepSize: 50,
          includeBounds: false,
          padding: 5,
          color: '#000',
          font: { size: 15, family: FONT },
          callback: v => fmtInt(v)
        },
        grid: { drawOnChartArea: false, drawTicks: true, tickLength: 5, color: '#7f7f7f' },
        border: { display: true, color: '#7f7f7f', width: 1 }
      }
    }
  },
  plugins: [fibLabels, priceTags]
});
</script>
</body>
</html>
